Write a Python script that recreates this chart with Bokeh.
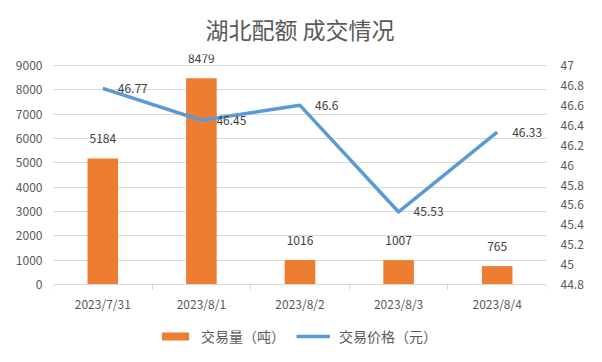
from bokeh.plotting import figure
from bokeh.models import (ColumnDataSource, Range1d, LinearAxis, FixedTicker,
                          LabelSet, Legend, LegendItem)
from bokeh.core.properties import value
from bokeh.embed import file_html
from bokeh.resources import INLINE

dates = ["2023/7/31", "2023/8/1", "2023/8/2", "2023/8/3", "2023/8/4"]
volume = [5184, 8479, 1016, 1007, 765]
price = [46.77, 46.45, 46.6, 45.53, 46.33]
vol_ticks = [0, 1000, 2000, 3000, 4000, 5000, 6000, 7000, 8000, 9000]
price_ticks = [44.8, 45.0, 45.2, 45.4, 45.6, 45.8, 46.0, 46.2, 46.4, 46.6, 46.8, 47.0]
price_tick_labels = ["44.8", "45", "45.2", "45.4", "45.6", "45.8", "46", "46.2",
                     "46.4", "46.6", "46.8", "47"]
title_text = "湖北配额 成交情况"
vol_name = "交易量（吨）"
price_name = "交易价格（元）"

FONT = "Noto Sans CJK SC"
TXT = "#595959"
LBL = "#404040"
GRID = "#D9D9D9"

W, H = 586, 346
LEFT, RIGHT, TOP = 53, 33, 53
AXIS_PX = 220          # pixel height between the 0 and 9000 gridlines
ZERO_Y = 284           # pixel row of the 0 gridline
TOP_GRID_Y = ZERO_Y - AXIS_PX

xs = [i + 0.5 for i in range(len(dates))]
bounds = list(range(len(dates) + 1))

vol_lo, vol_hi = vol_ticks[0], vol_ticks[-1]
pr_lo, pr_hi = price_ticks[0], price_ticks[-1]
per_px_v = (vol_hi - vol_lo) / AXIS_PX
per_px_p = (pr_hi - pr_lo) / AXIS_PX
top_px = TOP_GRID_Y - TOP
bot_px = H - ZERO_Y

src = ColumnDataSource(dict(
    x=xs, vol=volume, price=price,
    vol_txt=[str(v) for v in volume],
    price_txt=[f"{v:g}" for v in price],
))

p = figure(width=W, height=H, output_backend="svg", toolbar_location=None,
           x_range=Range1d(0, len(dates)),
           y_range=Range1d(vol_lo - bot_px * per_px_v, vol_hi + top_px * per_px_v),
           min_border_left=LEFT, min_border_right=RIGHT, min_border_top=TOP,
           min_border_bottom=0, outline_line_color=None,
           background_fill_color="white", border_fill_color="white")
p.extra_y_ranges = {"price": Range1d(pr_lo - bot_px * per_px_p,
                                     pr_hi + top_px * per_px_p)}

p.title.text = title_text
p.title.align = "center"
p.title.text_font = FONT
p.title.text_font_size = "23px"
p.title.text_font_style = "normal"
p.title.text_color = TXT
p.title.standoff = 18

# x axis, pinned to the zero line
xa = p.xaxis[0]
xa.fixed_location = 0
xa.ticker = FixedTicker(ticks=xs, minor_ticks=bounds)
xa.major_label_overrides = {x: d for x, d in zip(xs, dates)}
xa.axis_line_color = GRID
xa.major_tick_line_color = None
xa.minor_tick_line_color = GRID
xa.minor_tick_out = 5
xa.minor_tick_in = 0
xa.major_label_standoff = 4
xa.major_label_text_font = FONT
xa.major_label_text_font_size = "12px"
xa.major_label_text_color = TXT

# left axis
ya = p.yaxis[0]
ya.ticker = FixedTicker(ticks=vol_ticks)
ya.axis_line_color = None
ya.major_tick_line_color = None
ya.minor_tick_line_color = None
ya.major_label_standoff = 5
ya.major_label_text_font = FONT
ya.major_label_text_font_size = "12px"
ya.major_label_text_color = TXT

# right axis
ra = LinearAxis(y_range_name="price", ticker=FixedTicker(ticks=price_ticks))
ra.major_label_overrides = {t: s for t, s in zip(price_ticks, price_tick_labels)}
ra.axis_line_color = None
ra.major_tick_line_color = None
ra.minor_tick_line_color = None
ra.major_label_standoff = 8
ra.major_label_text_font = FONT
ra.major_label_text_font_size = "12px"
ra.major_label_text_color = TXT
p.add_layout(ra, "right")

p.xgrid.visible = False
p.ygrid.ticker = FixedTicker(ticks=vol_ticks)
p.ygrid.grid_line_color = GRID

bars = p.vbar(x="x", top="vol", width=0.31, source=src,
              fill_color="#ED7D31", line_color=None)
line = p.line(x="x", y="price", source=src, y_range_name="price",
              line_color="#5B9BD5", line_width=3.5, line_join="round")

p.add_layout(LabelSet(x="x", y="vol", text="vol_txt", source=src,
                      text_align="center", text_baseline="bottom", y_offset=15,
                      text_font=value(FONT), text_font_size=value("12px"),
                      text_color=LBL))
p.add_layout(LabelSet(x="x", y="price", text="price_txt", source=src,
                      y_range_name="price", x_offset=15,
                      text_align="left", text_baseline="middle",
                      text_font=value(FONT), text_font_size=value("12px"),
                      text_color=LBL))

legend = Legend(items=[LegendItem(label=vol_name, renderers=[bars]),
                       LegendItem(label=price_name, renderers=[line])],
                orientation="horizontal", location=(105, 0),
                border_line_color=None, background_fill_alpha=0,
                glyph_width=34, glyph_height=10, label_standoff=9, spacing=11,
                padding=0, margin=0,
                label_text_font=FONT, label_text_font_size="14px",
                label_text_color=TXT)
p.add_layout(legend, "center")

open("out.html", "w").write(file_html(p, INLINE))
